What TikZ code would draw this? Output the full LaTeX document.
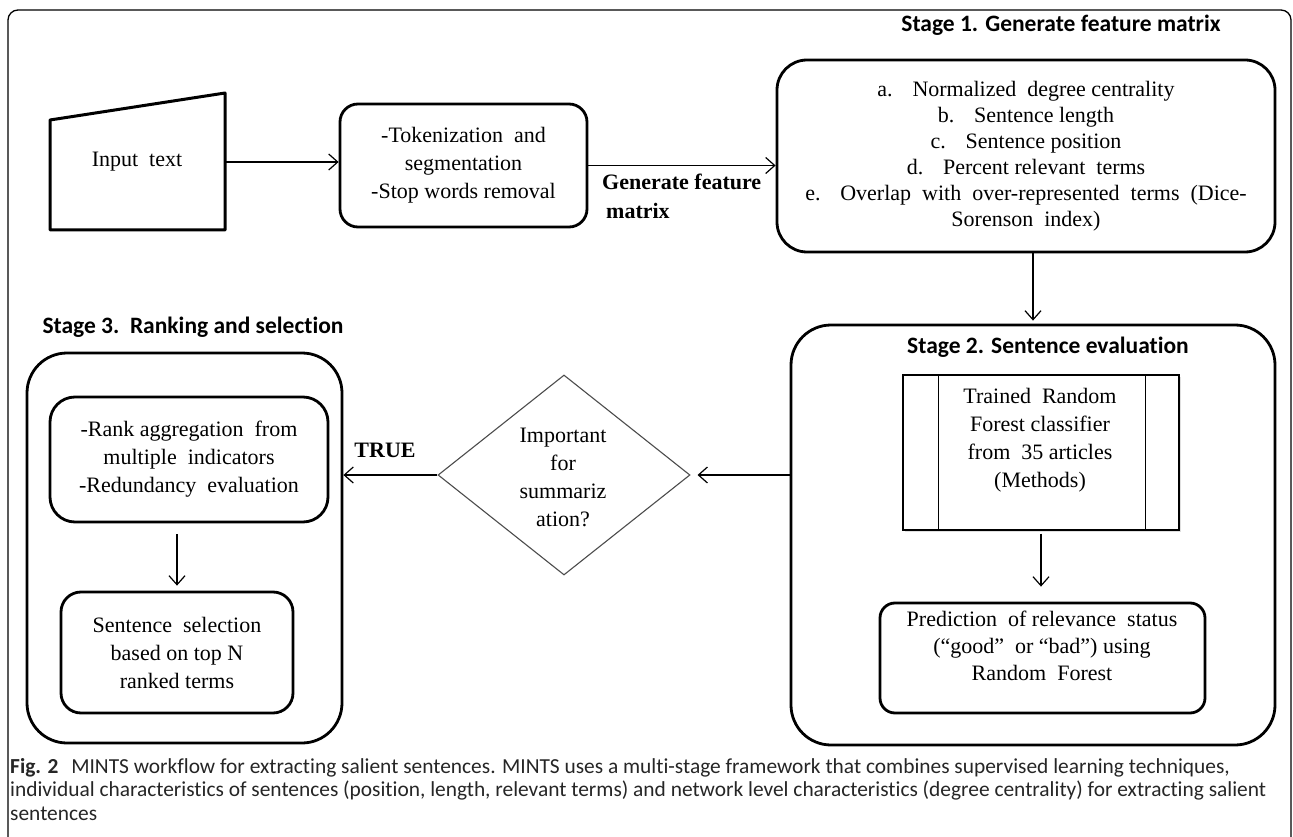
\documentclass[tikz,border=0pt]{standalone}
\usepackage{fontspec}
\setmainfont{Liberation Serif}
\newfontfamily\carl[Ligatures=NoCommon]{Carlito}
\usetikzlibrary{arrows.meta,shapes.geometric,shadows}
\begin{document}
\begin{tikzpicture}[x=1pt,y=-1pt,
  txt/.style={font=\fontsize{22}{28}\selectfont, align=center},
  thickbox/.style={draw, line width=2.8pt, rounded corners=#1, inner sep=0pt},
  ttl/.style={font=\carl\bfseries\fontsize{23.5}{26}\selectfont},
  arr/.style={draw, line width=1.2pt, -{Straight Barb[length=9pt,width=16pt,line width=1.2pt]}}
]
\useasboundingbox (0,0) rectangle (1293,837);
\fill[white] (0,0) rectangle (1293,837);
% frame
\draw[line width=1.3pt, rounded corners=10pt] (8,10) rectangle (1291,848);

% input text
\draw[line width=3pt, line join=round] (50,120) -- (225,93) -- (225,230) -- (50,230) -- cycle;
\coordinate (trapE) at (225,162);
\node[txt] (input) at (137,162) {Input\ \ text};

% tokenization box
\node[thickbox=18pt, minimum width=247pt, minimum height=123pt, txt] (tok) at (463.5,165.5) {-Tokenization\ \ and\\segmentation\\-Stop words removal};
\draw[arr] (trapE) -- (trapE -| tok.west);

% stage 1
\node[ttl] (t1) at (1061,25) {Stage 1. Generate feature matrix};
\node[thickbox=30pt, minimum width=498pt, minimum height=192pt, font=\fontsize{22}{26}\selectfont, align=center] (s1) at (1026,156) {a.\hspace{0.9em}Normalized\ \ degree\ centrality\\b.\hspace{0.9em}Sentence\ length\\c.\hspace{0.9em}Sentence\ position\\d.\hspace{0.9em}Percent relevant\ \ terms\\e.\hspace{0.9em}Overlap\ \ with\ \ over-represented\ \ terms\ \ (Dice-\\Sorenson\ \ index)};
\draw[arr] (tok.east) -- (tok.east -| s1.west);
\node[font=\bfseries\fontsize{22}{29}\selectfont, align=left, anchor=north west, inner sep=0pt] (gl) at (602,174) {Generate feature\\\hspace{4pt}matrix};

% stage 2
\node[thickbox=40pt, minimum width=484pt, minimum height=420pt] (s2) at (1033,535) {};
\draw[arr, shorten >=3pt] (s2.north |- s1.south) -- (s2.north);
\node[ttl] (t2) at (1048,347) {Stage 2. Sentence evaluation};
\node[draw, line width=1.3pt, fill=white, minimum width=276pt, minimum height=155pt, drop shadow={opacity=0.25, shadow xshift=2pt, shadow yshift=-2pt}] (tr) at (1041,452.5) {};
\draw[line width=1.3pt] ([xshift=36pt]tr.north west) -- ([xshift=36pt]tr.south west);
\draw[line width=1.3pt] ([xshift=-34pt]tr.north east) -- ([xshift=-34pt]tr.south east);
\node[txt] (trt) at (1040,440) {Trained\ \ Random\\Forest classifier\\from\ \ 35 articles\\(Methods)};
\node[thickbox=15pt, minimum width=325pt, minimum height=110pt] (pr) at (1042.5,658) {};
\node[font=\fontsize{22}{27}\selectfont, align=center] (prt) at (1042,646) {Prediction\ \ of relevance\ \ status\\(“good”\ \ or “bad”) using\\Random\ \ Forest};
\draw[arr, shorten <=3pt, shorten >=15pt] (tr.south) -- (tr.south |- pr.north);

% decision
\node[draw=black!70, line width=1.1pt, diamond, minimum width=252pt, minimum height=200pt, inner sep=0pt] (dm) at (564,475) {};
\node[txt] (dmt) at (563,477) {Important\\for\\summariz\\ation?};
\draw[arr, shorten >=7pt] (s2.west |- dm.east) -- (dm.east);

% stage 3
\node[ttl, anchor=west] (t3) at (39,327) {Stage 3.\ \ Ranking and selection};
\node[thickbox=40pt, minimum width=315pt, minimum height=390pt] (s3) at (184.5,548) {};
\node[thickbox=25pt, minimum width=278pt, minimum height=125pt, txt] (ba) at (189,459.5) {-Rank aggregation\ \ from\\multiple\ \ indicators\\-Redundancy\ \ evaluation};
\node[thickbox=20pt, minimum width=232pt, minimum height=121pt, txt] (bb) at (177,652.5) {Sentence\ \ selection\\based on top N\\ranked terms};
\draw[arr, shorten <=11pt, shorten >=5pt] (bb.north |- ba.south) -- (bb.north);
\draw[arr] (dm.west) -- (dm.west -| s3.east);
\node[font=\bfseries\fontsize{22}{26}\selectfont] (tl) at (385,450) {TRUE};

% caption
\node[anchor=north west, inner sep=0pt, align=left, font=\carl\fontsize{21.4}{23.5}\selectfont, text=black!85] (cap) at (10,758) {\textbf{Fig. 2}\hspace{0.6em}MINTS workflow for extracting salient sentences. MINTS uses a multi-stage framework that combines supervised learning techniques,\\individual characteristics of sentences (position, length, relevant terms) and network level characteristics (degree centrality) for extracting salient\\sentences};
\end{tikzpicture}
\end{document}
